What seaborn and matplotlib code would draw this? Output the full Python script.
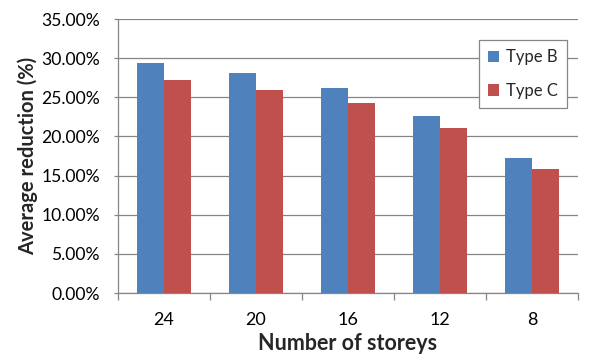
import matplotlib
matplotlib.use("Agg")
import matplotlib.pyplot as plt
import seaborn as sns
import pandas as pd
from matplotlib.ticker import PercentFormatter, FixedLocator, NullFormatter

storeys = ["24", "20", "16", "12", "8"]
type_b = [29.4, 28.1, 26.15, 22.6, 17.2]
type_c = [27.2, 25.9, 24.3, 21.05, 15.8]
series = ["Type B", "Type C"]
colors = ["#4F81BD", "#C0504D"]

df = pd.DataFrame({
    "storeys": storeys * 2,
    "value": type_b + type_c,
    "type": [series[0]] * len(storeys) + [series[1]] * len(storeys),
})

sns.set_theme(style="white")
plt.rcParams["font.family"] = ["Lato", "DejaVu Sans"]

fig = plt.figure(figsize=(6, 3.6), dpi=100)
ax = fig.add_axes([118/600, 1-293/360, 460/600, 274/360])

sns.barplot(data=df, x="storeys", y="value", hue="type", order=storeys,
            hue_order=series, palette=colors, width=0.58, gap=0,
            saturation=1, ax=ax, zorder=3, linewidth=0)

ax.set_ylim(0, 35)
ax.set_xlim(-0.5, 4.5)
ax.set_yticks([0, 5, 10, 15, 20, 25, 30, 35])
ax.yaxis.set_major_formatter(PercentFormatter(decimals=2))
ax.yaxis.grid(True, color="#868686", linewidth=0.9, zorder=0)
ax.set_axisbelow(True)

for s in ["top", "right"]:
    ax.spines[s].set_visible(False)
for s in ["left", "bottom"]:
    ax.spines[s].set_color("#868686")
    ax.spines[s].set_linewidth(0.9)

ax.tick_params(axis="y", which="major", length=3, width=0.9, color="#868686",
               direction="out", labelsize=12.6, labelcolor="#000000", left=True, pad=10)
ax.tick_params(axis="x", which="major", length=0, labelsize=13, labelcolor="#000000", pad=14)
ax.xaxis.set_minor_locator(FixedLocator([-0.5, 0.5, 1.5, 2.5, 3.5, 4.5]))
ax.xaxis.set_minor_formatter(NullFormatter())
ax.tick_params(axis="x", which="minor", length=5, width=0.9, color="#868686",
               direction="out", bottom=True)

ax.set_xlabel("Number of storeys", fontsize=15.5, fontweight="bold", labelpad=3)
ax.set_ylabel("Average reduction (%)", fontsize=14.5, fontweight="bold", labelpad=2)

leg = ax.legend(loc="upper right", bbox_to_anchor=(0.976, 0.923), frameon=True,
                fancybox=False, fontsize=12, handlelength=0.66, handleheight=0.66,
                handletextpad=0.4, labelspacing=1.05, borderpad=0.55, borderaxespad=0,
                title=None)
leg.get_frame().set_edgecolor("#868686")
leg.get_frame().set_linewidth(0.9)
leg.get_frame().set_facecolor("white")
leg.get_frame().set_alpha(1)

fig.savefig("out.png", dpi=100)
